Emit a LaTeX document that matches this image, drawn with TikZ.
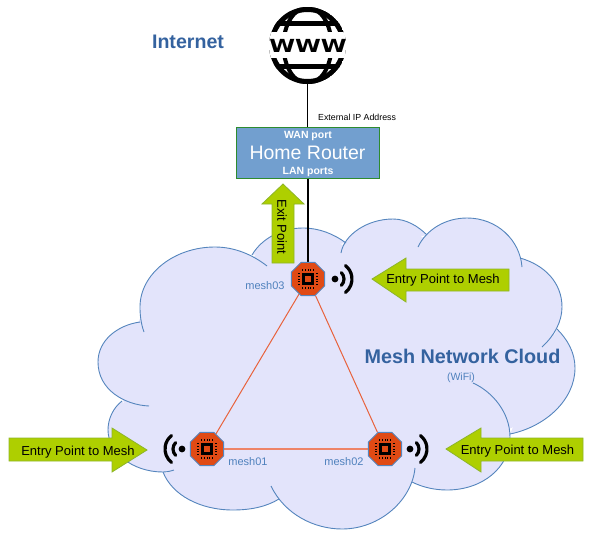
\documentclass[tikz,border=0pt]{standalone}
\usepackage{fontspec}
\setmainfont{Liberation Sans}
\newfontfamily\wwwfont{DejaVu Sans}
\usetikzlibrary{shapes.geometric}
\pgfdeclarelayer{under}
\pgfdeclarelayer{links}
\pgfsetlayers{under,links,main}
\definecolor{cloudbg}{HTML}{E3E4FB}
\definecolor{cloudln}{HTML}{5585BD}
\definecolor{routerbg}{HTML}{729FCF}
\definecolor{routerln}{HTML}{2E8B2E}
\definecolor{arrowbg}{HTML}{AECF00}
\definecolor{arrowln}{HTML}{8DB52A}
\definecolor{octbg}{HTML}{E04A14}
\definecolor{linkred}{HTML}{E8623C}
\definecolor{linklight}{HTML}{EE8468}
\definecolor{titleblue}{HTML}{34629F}
\definecolor{lblblue}{HTML}{4F81BD}
\newcommand\alllobes[1]{%
\path[#1] (144,332) .. controls (141,324) and (140,315) .. (140,307) .. controls (140,274) and (174,247) .. (215,247) .. controls (235,247) and (253,255) .. (267,266);
\path[#1] (252,255) .. controls (262,238) and (282,228) .. (303,228) .. controls (319,228) and (334,234) .. (346,243);
\path[#1] (341,253) .. controls (344,235) and (367,219) .. (393,219) .. controls (406,219) and (418,226) .. (427,235);
\path[#1] (418,247) .. controls (426,230) and (445,218) .. (467,218) .. controls (497,218) and (520,240) .. (522,267);
\path[#1] (520,258) .. controls (545,265) and (562,283) .. (562,307) .. controls (562,322) and (554,336) .. (542,347);
\path[#1] (557,329) .. controls (568,340) and (575,353) .. (575,368) .. controls (575,400) and (545,427) .. (510,434);
\path[#1] (473,383) .. controls (493,392) and (510,413) .. (510,437) .. controls (510,468) and (482,490) .. (447,490) .. controls (434,490) and (422,487) .. (412,482);
\path[#1] (271,486) .. controls (285,515) and (315,529) .. (342,529) .. controls (380,529) and (412,500) .. (415,468);
\path[#1] (163,472) .. controls (172,495) and (200,510) .. (233,510) .. controls (250,510) and (266,507) .. (279,499);
\path[#1] (122,401) .. controls (113,408) and (108,419) .. (108,430) .. controls (108,452) and (132,472) .. (163,472) .. controls (167,472) and (171,471) .. (174,470);
\path[#1] (149,406) .. controls (125,405) and (98,390) .. (98,362) .. controls (98,340) and (118,325) .. (140,322);
}
\tikzset{
  cloudfill/.style={fill=cloudbg},
  cloudline/.style={draw=cloudln,line width=0.9pt},
  mainlink/.style={draw=black,line width=1.9pt},
  redlink/.style={draw=linkred,line width=1pt},
  lightlink/.style={draw=linklight,line width=1.5pt},
  bigarrow/.style={draw=arrowln,fill=arrowbg,line width=0.8pt,line join=miter},
  arrowtext/.style={inner sep=0pt,text=black,font=\fontsize{13}{13}\selectfont},
  octnode/.style={regular polygon,regular polygon sides=8,minimum size=36pt,inner sep=0pt,draw=cloudln,fill=octbg,line width=1pt},
  meshlabel/.style={inner sep=0pt,text=lblblue,font=\fontsize{11}{11}\selectfont},
  chip/.pic={
    \fill[black] (-6,-6) rectangle (6,6);
    \fill[octbg] (-3,-3) rectangle (3,3);
    \foreach \t in {-5.5,-2.75,0,2.75,5.5}{
      \draw[black,line width=1pt] (\t,-10) -- (\t,-7.8);
      \draw[black,line width=1pt] (\t,7.8) -- (\t,10);
      \draw[black,line width=1pt] (-10,\t) -- (-7.8,\t);
      \draw[black,line width=1pt] (7.8,\t) -- (10,\t);
    }
  },
  wifi/.pic={
    \fill[black] (0,0) circle (3.4);
    \draw[black,line width=3.2pt,line cap=round] (45:9) arc[start angle=45,end angle=-45,radius=9];
    \draw[black,line width=3.2pt,line cap=round] (52:17) arc[start angle=52,end angle=-52,radius=17];
  }
}
\begin{document}
\begin{tikzpicture}[x=1pt,y=-1pt]
\useasboundingbox (0,0) rectangle (590,536);
\begin{pgfonlayer}{under}
\alllobes{cloudfill}
\fill[cloudbg] (124,403)--(115,380)--(125,335)--(135,328)--(150,300)--(180,262)--(250,262)--(262,246)--(285,236)--(335,240)--(345,247)--(352,236)--(360,232)--(415,232)--(426,240)--(440,232)--(500,240)--(516,262)--(535,270)--(555,300)--(552,330)--(570,365)--(560,390)--(520,425)--(505,430)--(500,455)--(470,480)--(420,480)--(410,480)--(390,505)--(340,520)--(300,510)--(285,497)--(270,500)--(175,485)--(165,468)--(130,455)--(115,425)--cycle;
\alllobes{cloudline}
\draw[bigarrow] (283,184)--(304,204)--(294,204)--(294,263)--(272,263)--(272,204)--(262,204)--cycle;
\draw[bigarrow] (372,279)--(406,258)--(406,269)--(509,269)--(509,291)--(406,291)--(406,302)--cycle;
\draw[bigarrow] (147,450)--(112,428)--(112,438)--(9,438)--(9,461)--(112,461)--(112,472)--cycle;
\draw[bigarrow] (446,449)--(481,428)--(481,438)--(583,438)--(583,461)--(481,461)--(481,472)--cycle;
\end{pgfonlayer}
\node[arrowtext,rotate=-90] (exit) at (282,227) {Exit Point};
\node[arrowtext] (entry3) at (443,280.5) {Entry Point to Mesh};
\node[arrowtext] (entry1) at (78,452) {Entry Point to Mesh};
\node[arrowtext] (entry2) at (517.5,451) {Entry Point to Mesh};
\node[draw=routerln,fill=routerbg,line width=1pt,minimum width=143pt,minimum height=51pt,inner sep=0pt] (router) at (307.5,152.5) {};
\node[inner sep=0pt,text=white,font=\bfseries\fontsize{10.5}{10.5}\selectfont] (wan) at (308,135.5) {WAN port};
\node[inner sep=0pt,text=white,font=\fontsize{19.5}{19.5}\selectfont] (home) at (307.5,152.5) {Home Router};
\node[inner sep=0pt,text=white,font=\bfseries\fontsize{10.5}{10.5}\selectfont] (lan) at (308,172) {LAN ports};
\node[circle,minimum size=76pt,inner sep=0pt] (globe) at (307.5,45.5) {};
\begin{scope}
\clip (307.5,45.5) circle (38.5);
\draw[black,line width=5pt] (307.5,45.5) circle (36);
\draw[black,line width=4pt] (307.5,45.5) ellipse (24 and 38);
\draw[black,line width=5pt] (260,23) -- (354,23);
\draw[black,line width=5pt] (260,66) -- (354,66);
\fill[white] (260,32) rectangle (354,58);
\end{scope}
\node[inner sep=0pt,xscale=1.3,font=\wwwfont\bfseries\fontsize{18}{18}\selectfont] (www) at (308,45.5) {WWW};
\node[octnode] (mesh03) at (308,279) {};
\node[octnode] (mesh01) at (207,449) {};
\node[octnode] (mesh02) at (385,449) {};
\begin{pgfonlayer}{links}
\draw[mainlink] (globe.south) -- (router.north);
\draw[mainlink] (router.south -| mesh03) -- (mesh03.north);
\draw[redlink] (mesh03) -- (mesh01);
\draw[redlink] (mesh03) -- (mesh02);
\draw[lightlink] (mesh01) -- (mesh02);
\end{pgfonlayer}
\pic at (mesh03) {chip};
\pic at (mesh01) {chip};
\pic at (mesh02) {chip};
\pic at (335,279) {wifi};
\pic at (410,449) {wifi};
\pic[xscale=-1] at (182,449) {wifi};
\node[meshlabel] (l3) at (265,286) {mesh03};
\node[meshlabel] (l1) at (248,462) {mesh01};
\node[meshlabel] (l2) at (344,462) {mesh02};
\node[inner sep=0pt,text=titleblue,font=\bfseries\fontsize{19.6}{19.6}\selectfont] (inet) at (188,42) {Internet};
\node[inner sep=0pt,text=titleblue,font=\bfseries\fontsize{19.8}{19.8}\selectfont] (cloud) at (462.5,356.5) {Mesh Network Cloud};
\node[inner sep=0pt,text=lblblue,font=\fontsize{10.5}{10.5}\selectfont] (wifi) at (461,378) {(WiFi)};
\node[inner sep=0pt,anchor=west,text=black,font=\fontsize{8.8}{8.8}\selectfont] (extip) at (318,117) {External IP Address};
\end{tikzpicture}
\end{document}
